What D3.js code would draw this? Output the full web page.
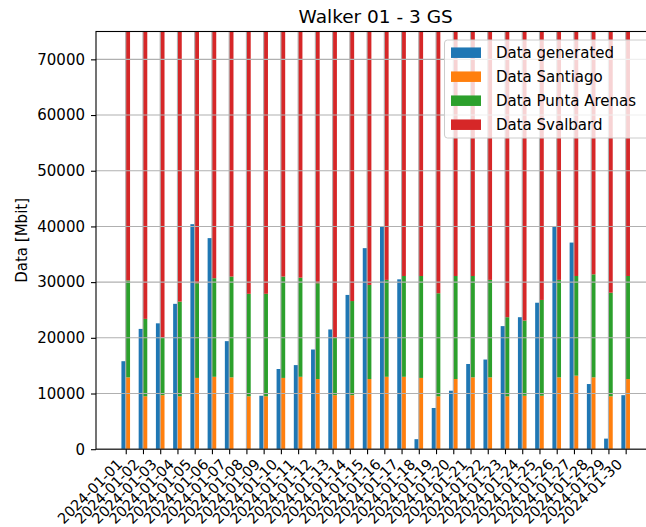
<!DOCTYPE html>
<html>
<head>
<meta charset="utf-8">
<script src="https://cdn.jsdelivr.net/npm/d3@7"></script>
<style>
  body { margin: 0; background: #fff; }
  text { font-family: "DejaVu Sans", sans-serif; fill: #000; }
</style>
</head>
<body>
<div id="chart"></div>
<script>
const width = 646;
const height = 527;

const dates = ['2024-01-01','2024-01-02','2024-01-03','2024-01-04','2024-01-05','2024-01-06',
  '2024-01-07','2024-01-08','2024-01-09','2024-01-10','2024-01-11','2024-01-12','2024-01-13',
  '2024-01-14','2024-01-15','2024-01-16','2024-01-17','2024-01-18','2024-01-19','2024-01-20',
  '2024-01-21','2024-01-22','2024-01-23','2024-01-24','2024-01-25','2024-01-26','2024-01-27',
  '2024-01-28','2024-01-29','2024-01-30'];
const generated = [15800, 21600, 22600, 26100, 40400, 37900, 19400, 0, 9600, 14400,
  15100, 17900, 21500, 27700, 36100, 39900, 30500, 1800, 7400, 10500,
  15300, 16100, 22100, 23700, 26300, 39900, 37100, 11700, 1900, 9700];
const santiago = [12900, 9500, 9700, 9500, 12800, 13000, 12900, 9500, 9500, 12800,
  13000, 12600, 9700, 9700, 12600, 13000, 13000, 12800, 9500, 12600,
  12900, 12900, 9500, 9600, 9600, 12900, 13200, 12900, 9500, 12600];
const puntaArenas = [17400, 13900, 10300, 17000, 17000, 17700, 18100, 18400, 18400, 18200,
  17800, 17200, 10300, 16900, 16900, 17400, 18100, 18300, 18500, 18500,
  18200, 17500, 14200, 13500, 17200, 17500, 17900, 18500, 18600, 18500];
// Svalbard runs past the top of the axis; only a lower bound is visible
const svalbard = [70000, 70000, 70000, 70000, 70000, 70000, 70000, 70000, 70000, 70000,
  70000, 70000, 70000, 70000, 70000, 70000, 70000, 70000, 70000, 70000,
  70000, 70000, 70000, 70000, 70000, 70000, 70000, 70000, 70000, 70000];
const yTicks = [0, 10000, 20000, 30000, 40000, 50000, 60000, 70000];

const seriesNames = ['Data generated', 'Data Santiago', 'Data Punta Arenas', 'Data Svalbard'];
const colors = ['#1f77b4', '#ff7f0e', '#2ca02c', '#d62728'];

const margin = {left: 96, top: 31.5, bottom: 449.2, right: 655.4};
const barW = 0.25;

const x = d3.scaleLinear().domain([-1.725, 30.725]).range([margin.left, margin.right]);
const y = d3.scaleLinear().domain([0, 75000]).range([margin.bottom, margin.top]);

const svg = d3.select('#chart').append('svg').attr('width', width).attr('height', height);

svg.append('clipPath').attr('id', 'plot')
  .append('rect')
  .attr('x', margin.left).attr('y', margin.top)
  .attr('width', margin.right - margin.left).attr('height', margin.bottom - margin.top);

const plot = svg.append('g').attr('clip-path', 'url(#plot)');

// blue bars, left of the tick
plot.selectAll('rect.gen')
  .data(generated)
  .join('rect')
  .attr('class', 'gen')
  .attr('x', (d, i) => x(i - barW))
  .attr('width', x(barW) - x(0))
  .attr('y', d => y(d))
  .attr('height', d => y(0) - y(d))
  .attr('fill', colors[0]);

// stacked bars, right of the tick
const rows = dates.map((d, i) => ({i, san: santiago[i], pa: puntaArenas[i], sv: svalbard[i]}));
const stack = d3.stack().keys(['san', 'pa', 'sv'])(rows);

plot.selectAll('g.layer')
  .data(stack)
  .join('g')
  .attr('class', 'layer')
  .attr('fill', (d, k) => colors[k + 1])
  .selectAll('rect')
  .data(d => d)
  .join('rect')
  .attr('x', d => x(d.data.i))
  .attr('width', x(barW) - x(0))
  .attr('y', d => y(d[1]))
  .attr('height', d => y(d[0]) - y(d[1]));

// grid drawn over the bars
const grid = svg.append('g').attr('clip-path', 'url(#plot)')
  .attr('stroke', '#b0b0b0').attr('stroke-width', 1.1);
grid.selectAll('line.h')
  .data(yTicks)
  .join('line')
  .attr('class', 'h')
  .attr('x1', margin.left).attr('x2', margin.right)
  .attr('y1', d => y(d)).attr('y2', d => y(d));
grid.selectAll('line.v')
  .data(dates)
  .join('line')
  .attr('class', 'v')
  .attr('x1', (d, i) => x(i)).attr('x2', (d, i) => x(i))
  .attr('y1', margin.top).attr('y2', margin.bottom);

// axes
const yAxis = svg.append('g')
  .attr('transform', `translate(${margin.left},0)`)
  .call(d3.axisLeft(y).tickValues(yTicks).tickFormat(d3.format('d')).tickSize(5).tickPadding(6));
const xAxis = svg.append('g')
  .attr('transform', `translate(0,${margin.bottom})`)
  .call(d3.axisBottom(x).tickValues(d3.range(dates.length)).tickFormat(i => dates[i]).tickSize(5));

[yAxis, xAxis].forEach(a => {
  a.select('.domain').remove();
  a.selectAll('line').attr('stroke', '#000').attr('stroke-width', 1.1);
  a.selectAll('text').attr('font-size', 15).attr('font-family', 'DejaVu Sans');
});

xAxis.selectAll('text')
  .attr('font-size', 14.5)
  .attr('text-anchor', 'end')
  .attr('dy', null)
  .attr('y', null)
  .attr('transform', 'translate(-3,16) rotate(-45)');

// spines
svg.append('rect')
  .attr('x', margin.left).attr('y', margin.top)
  .attr('width', margin.right - margin.left).attr('height', margin.bottom - margin.top)
  .attr('fill', 'none').attr('stroke', '#000').attr('stroke-width', 1.1);

// title and y label
svg.append('text')
  .attr('x', (margin.left + margin.right) / 2).attr('y', 23)
  .attr('text-anchor', 'middle').attr('font-size', 18.5)
  .text('Walker 01 - 3 GS');

svg.append('text')
  .attr('transform', `translate(27,${(margin.top + margin.bottom) / 2}) rotate(-90)`)
  .attr('text-anchor', 'middle').attr('font-size', 15)
  .text('Data [Mbit]');

// legend
const legend = svg.append('g');
legend.append('rect')
  .attr('x', 444.5).attr('y', 40).attr('width', 230).attr('height', 98)
  .attr('rx', 3)
  .attr('fill', '#fff').attr('fill-opacity', 0.8)
  .attr('stroke', '#cccccc').attr('stroke-width', 1);

const items = legend.selectAll('g.item')
  .data(seriesNames)
  .join('g')
  .attr('class', 'item')
  .attr('transform', (d, i) => `translate(451,${52.7 + i * 24})`);
items.append('rect')
  .attr('x', 0).attr('y', -5.25).attr('width', 30).attr('height', 10.5)
  .attr('fill', (d, i) => colors[i]);
items.append('text')
  .attr('x', 45).attr('y', 5.5)
  .attr('font-size', 15)
  .text(d => d);
</script>
</body>
</html>
